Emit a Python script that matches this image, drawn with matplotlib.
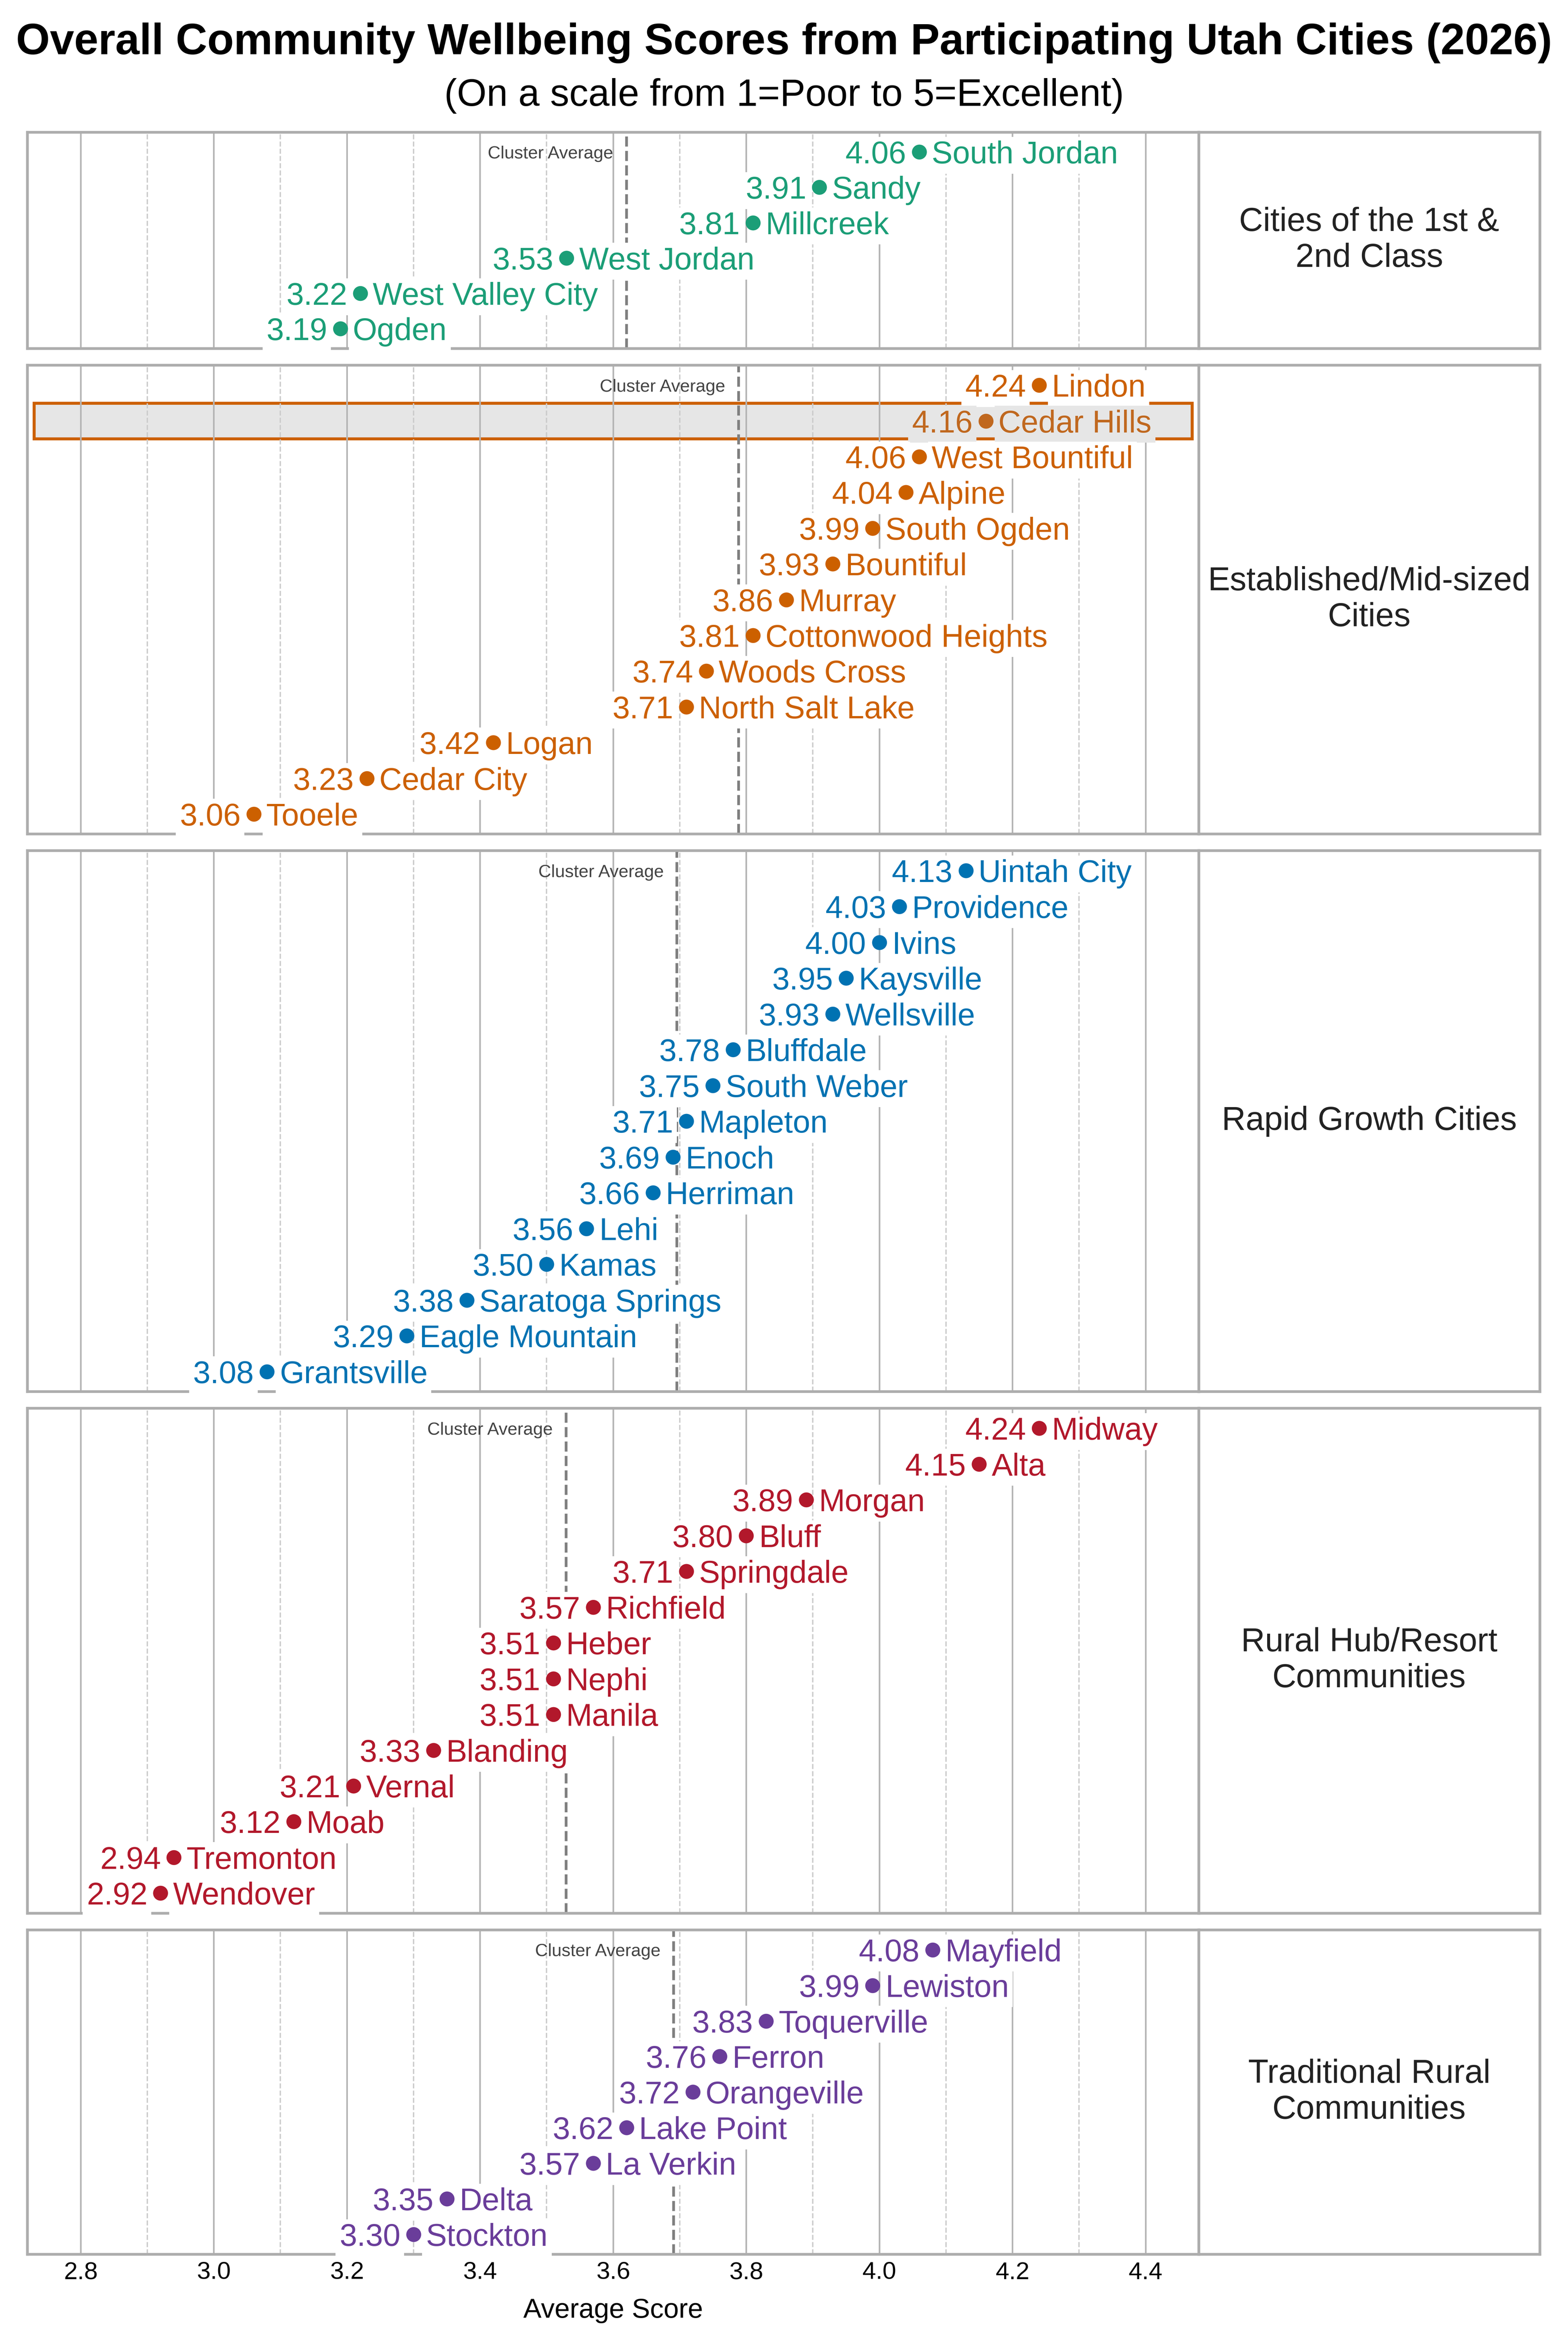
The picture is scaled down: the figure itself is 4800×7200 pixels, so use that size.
import matplotlib.pyplot as plt
from matplotlib.patches import Rectangle
from matplotlib.ticker import MultipleLocator

plt.rcParams["font.family"] = ["Liberation Sans", "DejaVu Sans"]

# =========================
# Survey results by cluster
# =========================
cluster_labels = [
    "Cities of the 1st &\n2nd Class",
    "Established/Mid-sized\nCities",
    "Rapid Growth Cities",
    "Rural Hub/Resort\nCommunities",
    "Traditional Rural\nCommunities",
]
cluster_colors = ["#1b9e77", "#cc6000", "#0072b2", "#b2182b", "#6a3d9a"]

first_class_cities = ["South Jordan", "Sandy", "Millcreek", "West Jordan", "West Valley City", "Ogden"]
first_class_scores = [4.06, 3.91, 3.81, 3.53, 3.22, 3.19]

established_cities = [
    "Lindon", "Cedar Hills", "West Bountiful", "Alpine", "South Ogden", "Bountiful", "Murray",
    "Cottonwood Heights", "Woods Cross", "North Salt Lake", "Logan", "Cedar City", "Tooele",
]
established_scores = [4.24, 4.16, 4.06, 4.04, 3.99, 3.93, 3.86, 3.81, 3.74, 3.71, 3.42, 3.23, 3.06]

rapid_cities = [
    "Uintah City", "Providence", "Ivins", "Kaysville", "Wellsville", "Bluffdale", "South Weber",
    "Mapleton", "Enoch", "Herriman", "Lehi", "Kamas", "Saratoga Springs", "Eagle Mountain",
    "Grantsville",
]
rapid_scores = [4.13, 4.03, 4.00, 3.95, 3.93, 3.78, 3.75, 3.71, 3.69, 3.66, 3.56, 3.50, 3.38, 3.29, 3.08]

resort_cities = [
    "Midway", "Alta", "Morgan", "Bluff", "Springdale", "Richfield", "Heber", "Nephi", "Manila",
    "Blanding", "Vernal", "Moab", "Tremonton", "Wendover",
]
resort_scores = [4.24, 4.15, 3.89, 3.80, 3.71, 3.57, 3.51, 3.51, 3.51, 3.33, 3.21, 3.12, 2.94, 2.92]

rural_cities = [
    "Mayfield", "Lewiston", "Toquerville", "Ferron", "Orangeville", "Lake Point", "La Verkin",
    "Delta", "Stockton",
]
rural_scores = [4.08, 3.99, 3.83, 3.76, 3.72, 3.62, 3.57, 3.35, 3.30]

city_lists = [first_class_cities, established_cities, rapid_cities, resort_cities, rural_cities]
score_lists = [first_class_scores, established_scores, rapid_scores, resort_scores, rural_scores]

highlight_city = "Cedar Hills"
highlight_text_color = "#c0681f"
x_min, x_max = 2.72, 4.48

LABEL_SIZE = 11.5
SPINE_COLOR = "#adadad"


def main() -> None:
    fig = plt.figure(figsize=(8, 12), dpi=600)
    gs = fig.add_gridspec(
        5, 2,
        height_ratios=[len(c) for c in city_lists],
        width_ratios=[3.435, 1],
        left=0.0175, right=0.982, top=0.9438, bottom=0.0415,
        hspace=0.0405, wspace=0,
    )

    for i, (cities, scores) in enumerate(zip(city_lists, score_lists)):
        color = cluster_colors[i]
        n = len(cities)
        ys = [n - 1 - k for k in range(n)]

        ax = fig.add_subplot(gs[i, 0])
        ax.set_xlim(x_min, x_max)
        ax.set_ylim(-0.56, n - 0.44)
        ax.xaxis.set_major_locator(MultipleLocator(0.2))
        ax.xaxis.set_minor_locator(MultipleLocator(0.1))
        ax.grid(which="major", axis="x", color="#b5b5b5", linewidth=0.6)
        ax.grid(which="minor", axis="x", color="#cccccc", linewidth=0.5, linestyle="--")
        ax.set_axisbelow(True)
        ax.set_yticks([])
        ax.tick_params(axis="x", which="both", length=0, labelsize=9, pad=2.6)
        if i < len(city_lists) - 1:
            ax.tick_params(axis="x", labelbottom=False)
        for sp in ax.spines.values():
            sp.set_color(SPINE_COLOR)
            sp.set_linewidth(1.0)

        # Cluster average
        avg = sum(scores) / n
        ax.axvline(avg, color="#7f7f7f", linestyle="--", linewidth=1.0, zorder=1)
        ax.text(avg - 0.02, n - 1, "Cluster Average", ha="right", va="center_baseline",
                fontsize=6.5, color="#444444", zorder=2)

        for city, score, y in zip(cities, scores, ys):
            bg = "white"
            tcolor = color
            if city == highlight_city:
                bg = "#e6e6e6"
                tcolor = highlight_text_color
                ax.add_patch(Rectangle(
                    (x_min + 0.01, y - 0.5), x_max - x_min - 0.02, 1.0,
                    facecolor=bg, edgecolor=color, linewidth=1.1, zorder=0.3,
                ))
            box = dict(boxstyle="square,pad=0.12", facecolor=bg, edgecolor="none")
            ax.scatter(score, y, s=30, color=tcolor, zorder=5, linewidths=0)
            ax.annotate(f"{score:.2f}", (score, y), xytext=(-4.8, 0), textcoords="offset points",
                        ha="right", va="center_baseline", fontsize=LABEL_SIZE, color=tcolor,
                        bbox=box, zorder=4)
            ax.annotate(city, (score, y), xytext=(4.6, 0), textcoords="offset points",
                        ha="left", va="center_baseline", fontsize=LABEL_SIZE, color=tcolor,
                        bbox=box, zorder=4)

        if i == len(city_lists) - 1:
            ax.set_xlabel("Average Score", fontsize=10, labelpad=5)

        # Cluster name panel
        lab = fig.add_subplot(gs[i, 1])
        lab.set_xticks([])
        lab.set_yticks([])
        for sp in lab.spines.values():
            sp.set_color(SPINE_COLOR)
            sp.set_linewidth(1.0)
        lab.text(0.5, 0.5, cluster_labels[i], ha="center", va="center",
                 fontsize=12.2, color="#222222", transform=lab.transAxes)

    fig.text(0.5, 0.9818,
             "Overall Community Wellbeing Scores from Participating Utah Cities (2026)",
             ha="center", va="center", fontsize=16, fontweight="bold")
    fig.text(0.5, 0.9593, "(On a scale from 1=Poor to 5=Excellent)",
             ha="center", va="center", fontsize=14)

    fig.savefig("out.png", dpi=600)


if __name__ == "__main__":
    main()
